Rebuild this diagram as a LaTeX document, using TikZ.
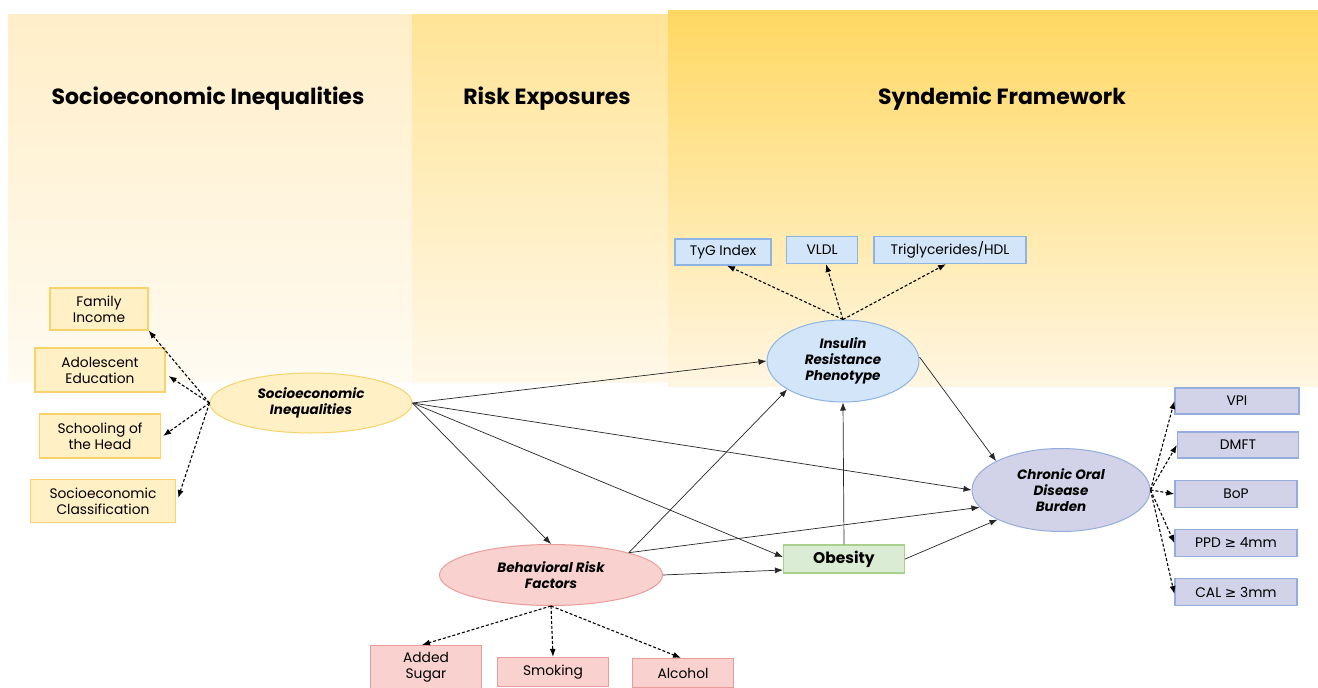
\documentclass[tikz,border=0pt]{standalone}
\usepackage{fontspec}
\setmainfont{Poppins}
\newfontfamily\symfont{DejaVu Sans}
\usetikzlibrary{arrows.meta,shapes.geometric}
\definecolor{ybox}{HTML}{FFF0C6}
\definecolor{yline}{HTML}{F7D36A}
\definecolor{bbox}{HTML}{D3E5F8}
\definecolor{bline}{HTML}{8DB4E2}
\definecolor{pbox}{HTML}{D2D2E8}
\definecolor{pline}{HTML}{93AEDC}
\definecolor{rbox}{HTML}{F9D2D0}
\definecolor{rline}{HTML}{EA9C9A}
\definecolor{gbox}{HTML}{DAEDD4}
\definecolor{gline}{HTML}{A9D18E}
\tikzset{
  x=1pt,y=-1pt,
  lbox/.style={draw,line width=1.2pt,inner sep=0pt,align=center,font=\fontsize{13.8}{16}\selectfont},
  ybx/.style={lbox,fill=ybox,draw=yline},
  bbx/.style={lbox,fill=bbox,draw=bline},
  pbx/.style={lbox,fill=pbox,draw=pline},
  rbx/.style={lbox,fill=rbox,draw=rline},
  lat/.style={ellipse,draw,line width=1pt,inner sep=0pt,align=center,font=\fontsize{13.5}{16}\selectfont\bfseries\itshape},
  hdr/.style={font=\fontsize{22}{24}\selectfont\bfseries},
  solidarr/.style={-{Latex[length=8pt,width=6pt]},line width=0.7pt,black!85},
  dasharr/.style={-{Latex[length=8pt,width=6pt]},line width=1.1pt,dashed,dash pattern=on 3pt off 2pt,black},
}
\begin{document}
\begin{tikzpicture}
\useasboundingbox (0,0) rectangle (1318,688);
\fill[white] (0,0) rectangle (1318,688);
% background panels
\shade[top color={rgb,255:red,255;green,238;blue,200}, bottom color={rgb,255:red,255;green,251;blue,242}] (8,14) rectangle (412,382);
\shade[top color={rgb,255:red,255;green,228;blue,150}, bottom color={rgb,255:red,255;green,248;blue,232}] (412,14) rectangle (670,382);
\shade[top color={rgb,255:red,255;green,216;blue,98}, bottom color={rgb,255:red,255;green,246;blue,226}] (668,10) rectangle (1318,386);
% headers
\node[hdr] (h1) at (208,99) {Socioeconomic Inequalities};
\node[hdr] (h2) at (547,99) {Risk Exposures};
\node[hdr] (h3) at (1002,99) {Syndemic Framework};
% latent variables
\node[lat,fill=ybox,draw=yline,minimum width=202,minimum height=60] (SI) at (311,403) {Socioeconomic\\Inequalities};
\node[lat,fill=bbox,draw=bline,minimum width=152,minimum height=82] (IR) at (843,361) {Insulin\\Resistance\\Phenotype};
\node[lat,fill=pbox,draw=pline,minimum width=178,minimum height=83] (CO) at (1061,490) {Chronic Oral\\Disease\\Burden};
\node[lat,fill=rbox,draw=rline,minimum width=223,minimum height=61] (BR) at (551,575) {Behavioral Risk\\Factors};
\node[lbox,fill=gbox,draw=gline,minimum width=121,minimum height=28,font=\fontsize{15.5}{16}\selectfont\bfseries] (OB) at (844,559) {Obesity};
% indicators
\node[ybx,minimum width=98,minimum height=42] (FI) at (99,309) {Family\\Income};
\node[ybx,minimum width=130,minimum height=44] (AE) at (100,370) {Adolescent\\Education};
\node[ybx,minimum width=121,minimum height=44] (SH) at (100,436) {Schooling of\\the Head};
\node[ybx,minimum width=145,minimum height=43] (SC) at (103,501) {Socioeconomic\\Classification};
\node[bbx,minimum width=96,minimum height=26] (TY) at (723,252) {TyG Index};
\node[bbx,minimum width=71,minimum height=27] (VL) at (822,250) {VLDL};
\node[bbx,minimum width=152,minimum height=27] (TG) at (950,250) {Triglycerides/HDL};
\node[pbx,minimum width=124,minimum height=26] (VPI) at (1237,401) {VPI};
\node[pbx,minimum width=121,minimum height=26] (DM) at (1238,445) {DMFT};
\node[pbx,minimum width=122,minimum height=27] (BO) at (1236,494) {BoP};
\node[pbx,minimum width=122,minimum height=27] (PP) at (1236,543) {PPD {\symfont ≥} 4mm};
\node[pbx,minimum width=122,minimum height=27] (CA) at (1236,592) {CAL {\symfont ≥} 3mm};
\node[rbx,minimum width=111,minimum height=43] (AS) at (426,667) {Added\\Sugar};
\node[rbx,minimum width=111,minimum height=29] (SM) at (553,672) {Smoking};
\node[rbx,minimum width=101,minimum height=29] (AL) at (683,673) {Alcohol};
% measurement arrows
\draw[dasharr] (SI.west) -- (FI.south east);
\draw[dasharr] (SI.west) -- ([xshift=3pt,yshift=-6pt]AE.east);
\draw[dasharr] (SI.west) -- ([xshift=2pt]SH.east);
\draw[dasharr] (SI.west) -- ([xshift=2pt,yshift=3pt]SC.east);
\draw[dasharr] (IR.north) -- ([xshift=4pt]TY.south);
\draw[dasharr] (IR.north) -- ([xshift=4pt]VL.south);
\draw[dasharr] (IR.north) -- ([xshift=-4pt]TG.south);
\draw[dasharr] (BR.south) -- ([xshift=-4pt]AS.north);
\draw[dasharr] (BR.south) -- (SM.north);
\draw[dasharr] (BR.south) -- ([xshift=-2pt]AL.north);
\draw[dasharr] (CO.east) -- (VPI.west);
\draw[dasharr] (CO.east) -- (DM.west);
\draw[dasharr] (CO.east) -- (BO.west);
\draw[dasharr] (CO.east) -- (PP.west);
\draw[dasharr] (CO.east) -- ([yshift=-2pt]CA.west);
% structural arrows
\draw[solidarr] (SI.east) -- (IR.west);
\draw[solidarr] (SI.east) -- (CO.west);
\draw[solidarr] (SI.east) -- (BR.north);
\draw[solidarr] (SI.east) -- ([yshift=2pt]OB.west);
\draw[solidarr] (BR.16) -- (IR.207);
\draw[solidarr] (BR.16) -- (CO.192);
\draw[solidarr] (BR.east) -- ([yshift=-11pt]OB.west);
\draw[solidarr] (OB.north) -- (IR.south);
\draw[solidarr] (OB.east) -- (CO.205);
\draw[solidarr] ([yshift=4pt]IR.east) -- (CO.156);
\end{tikzpicture}
\end{document}
